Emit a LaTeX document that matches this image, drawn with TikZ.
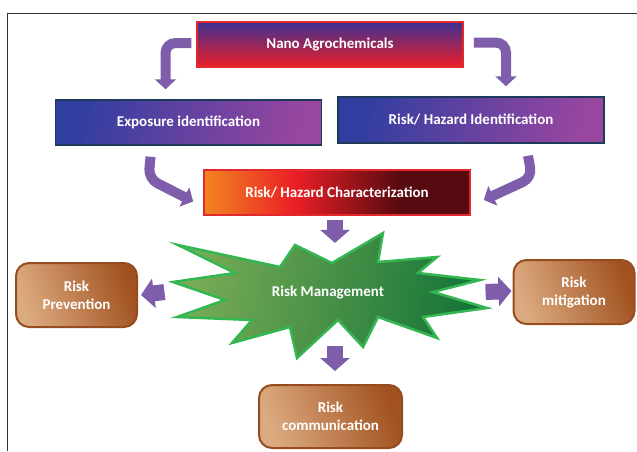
\documentclass[tikz,border=0pt]{standalone}
\usepackage{fontspec}
\setsansfont{Carlito}
\usepackage{tikz}
\usetikzlibrary{arrows.meta}
\usetikzlibrary{positioning}

\definecolor{flowpurple}{RGB}{126,94,170}
\definecolor{idblue}{RGB}{48,62,160}
\definecolor{idpurple}{RGB}{152,70,160}
\definecolor{idedge}{RGB}{30,58,90}
\definecolor{nanotop}{RGB}{62,48,145}
\definecolor{nanomid}{RGB}{160,38,140}
\definecolor{nanobot}{RGB}{238,30,40}
\definecolor{rededge}{RGB}{225,40,45}
\definecolor{tan}{RGB}{220,170,128}
\definecolor{brown}{RGB}{162,82,32}
\definecolor{brownedge}{RGB}{150,76,30}
\definecolor{lightgreen}{RGB}{122,172,86}
\definecolor{darkgreen}{RGB}{20,116,56}
\definecolor{stargreen}{RGB}{52,182,82}

\pgfdeclarehorizontalshading{charshade}{100bp}{rgb(0bp)=(0.95,0.52,0.13); rgb(25bp)=(0.95,0.52,0.13);
  rgb(42bp)=(0.92,0.12,0.15); rgb(62bp)=(0.34,0.04,0.06); rgb(100bp)=(0.34,0.04,0.06)}

\tikzstyle{stage} = [rectangle, minimum width=266pt, minimum height=45pt, text centered, line width=1.5pt,
  text=white, font=\sffamily\bfseries\fontsize{15}{17}\selectfont]
\tikzstyle{idstage} = [stage, draw=idedge, left color=idblue, right color=idpurple, shading angle=75]
\tikzstyle{outcome} = [rectangle, rounded corners=13pt, minimum width=121pt, minimum height=64pt, align=center,
  draw=brownedge, line width=2pt, left color=tan, right color=brown, shading angle=110,
  text=white, font=\sffamily\bfseries\fontsize{15}{18}\selectfont]
\tikzstyle{flow} = [draw=flowpurple, line width=10pt, rounded corners=10pt, -{Triangle[length=10pt,width=21pt]}]
\tikzstyle{bigflow} = [draw=flowpurple, line width=16pt, -{Triangle[length=13pt,width=29pt]}]

\begin{document}
\begin{tikzpicture}[x=1pt, y=-1pt]
\useasboundingbox (0,0) rectangle (637,451);

% frame
\draw[black!80, line width=1pt] (7.5,451) -- (7.5,13) -- (637,13);

% boxes
\node (nano) [stage, draw=rededge, top color=nanotop, middle color=nanomid, bottom color=nanobot] at (330,44.5) {Nano Agrochemicals};
\node (expo) [idstage] at (188.5,122.5) {Exposure identification};
\node (hazid) [idstage, minimum height=46pt] at (471,120) {Risk/ Hazard Identification};
\node (charac) [stage, draw=rededge, shading=charshade] at (337,192.5) {Risk/ Hazard Characterization};

% star
\path[draw=stargreen, line width=2.5pt, line join=miter, left color=lightgreen, right color=darkgreen, shading angle=80]
  (178,245) -- (280,267) -- (295,245) -- (332,263) -- (383,233) -- (378,262) -- (437,257) -- (418,273)
  -- (480,280) -- (433,292) -- (487,308) -- (423,317) -- (437,338) -- (378,317) -- (363,347) -- (338,320)
  -- (297,358) -- (290,327) -- (232,343) -- (252,320) -- (177,317) -- (225,300) -- (173,282) -- (235,273) -- cycle;
\node (mgmt) [text=white, font=\sffamily\bfseries\fontsize{15}{17}\selectfont] at (328,292) {Risk Management};

\node (prev) [outcome] at (76.5,295) {Risk\\Prevention};
\node (mitig) [outcome] at (574,292) {Risk\\mitigation};
\node (comm) [outcome, minimum width=143pt, minimum height=63pt] at (330.5,416.5) {Risk\\communication};

% arrows
\draw[flow] ([xshift=-5pt,yshift=1.5pt]nano.west) -| ([xshift=-23pt,yshift=10pt]expo.north);
\draw[flow] ([xshift=10pt,yshift=2pt]nano.east) -| ([xshift=35pt,yshift=10pt]hazid.north);
\draw[flow] ([xshift=-38pt,yshift=-11pt]expo.south) -- ++(-2,22) -- ([xshift=-10pt,yshift=-9pt]charac.west);
\draw[flow] ([xshift=57pt,yshift=-12pt]hazid.south) -- ++(4,22) -- ([xshift=13pt,yshift=-7.5pt]charac.east);

\draw[bigflow] ([xshift=-2pt,yshift=-4pt]charac.south) -- ([xshift=7pt,yshift=39pt]mgmt.north);
\draw[bigflow] ([xshift=-104pt]mgmt.west) -- ([xshift=3pt]prev.east);
\draw[bigflow] ([xshift=98pt]mgmt.east) -- ([xshift=-1pt,yshift=1pt]mitig.west);
\draw[bigflow] ([xshift=4.5pt,yshift=38pt]comm.north) -- ([xshift=4.5pt,yshift=13pt]comm.north);
\end{tikzpicture}
\end{document}
